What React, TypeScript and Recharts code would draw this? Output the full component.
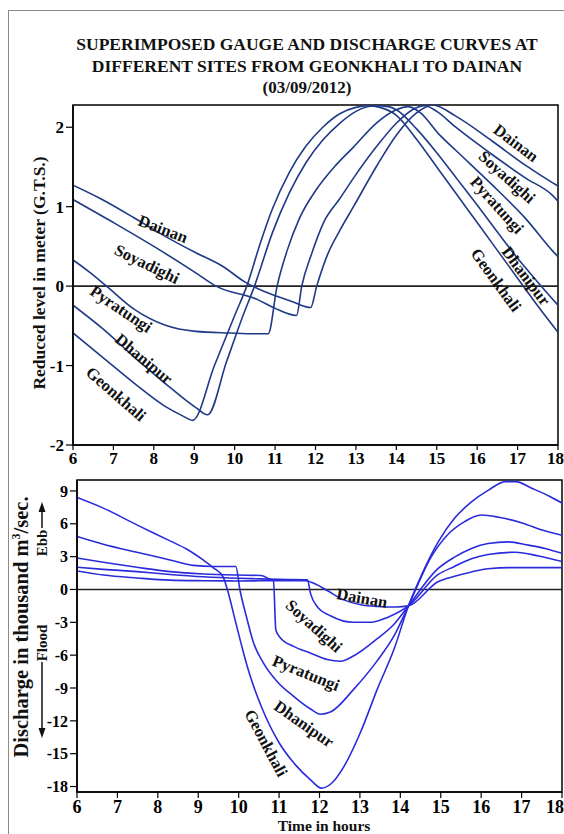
import React from 'react';
import { LineChart, Line, XAxis, YAxis, ReferenceLine, ReferenceArea } from 'recharts';

const FONT = '"Liberation Serif", "Times New Roman", serif';
const TOP_COLOR = '#1f3a86';
const BOTTOM_COLOR = '#2b2bdc';

// x axis (time in hours)
const hourTicks = [6, 7, 8, 9, 10, 11, 12, 13, 14, 15, 16, 17, 18];
// y ticks
const levelTicks = [-2, -1, 0, 1, 2];
const dischargeTicks = [9, 6, 3, 0, -3, -6, -9, -12, -15, -18];

// ---- Gauge (reduced level, m) : [hour, level]
const gaugeGeonkhali = [
  [6, -0.59], [6.72, -0.89], [7.51, -1.22], [8.27, -1.51], [8.7, -1.63], [8.96, -1.69],
  [9.5, -1.0], [10.0, -0.37], [10.3, 0], [10.64, 0.55], [10.94, 0.98], [11.35, 1.43],
  [11.76, 1.76], [12.18, 2.0], [12.6, 2.17], [13.0, 2.25], [13.3, 2.27], [13.6, 2.25],
  [14.0, 2.15], [14.5, 1.85], [15, 1.5], [15.5, 1.15], [16, 0.8], [16.5, 0.45],
  [17, 0.1], [17.5, -0.25], [18, -0.58],
];
const gaugeDhanipur = [
  [6, -0.24], [6.72, -0.53], [7.51, -0.89], [8.27, -1.22], [9.04, -1.53], [9.33, -1.62],
  [9.8, -0.95], [10.2, -0.38], [10.49, 0], [10.94, 0.68], [11.35, 1.17], [11.76, 1.55],
  [12.18, 1.84], [12.6, 2.05], [13.0, 2.2], [13.5, 2.27], [13.8, 2.26], [14.0, 2.22],
  [14.5, 1.98], [15, 1.68], [15.5, 1.35], [16, 1.02], [16.5, 0.68], [17, 0.35],
  [17.5, 0.05], [18, -0.24],
];
const gaugePyratungi = [
  [6, 0.33], [6.4, 0.18], [6.83, 0], [7.51, -0.29], [8.27, -0.49], [9.04, -0.57],
  [9.88, -0.59], [10.5, -0.6], [10.83, -0.6], [11.05, 0], [11.3, 0.45], [11.6, 0.85],
  [12.0, 1.2], [12.5, 1.52], [12.94, 1.75], [13.5, 2.05], [14.0, 2.22], [14.3, 2.26],
  [14.6, 2.18], [15.04, 1.92], [15.47, 1.71], [16.36, 1.28], [17.2, 0.85], [17.87, 0.44],
  [18, 0.37],
];
const gaugeSoyadighi = [
  [6, 1.09], [7, 0.8], [8, 0.5], [9, 0.18], [9.54, 0], [10.57, -0.17], [11.0, -0.28],
  [11.53, -0.37], [11.66, 0], [11.9, 0.4], [12.2, 0.8], [12.6, 1.1], [12.94, 1.36],
  [13.5, 1.75], [14.0, 2.05], [14.4, 2.22], [14.7, 2.27], [15.0, 2.2], [15.47, 2.0],
  [16.36, 1.66], [17.2, 1.36], [17.87, 1.14], [18, 1.07],
];
const gaugeDainan = [
  [6, 1.27], [6.72, 1.09], [7.51, 0.86], [8.27, 0.63], [9.04, 0.42], [9.7, 0.25],
  [10.26, 0.05], [10.94, -0.11], [11.4, -0.19], [11.88, -0.27], [12.03, 0], [12.3, 0.4],
  [12.6, 0.7], [12.94, 1.0], [13.5, 1.5], [14.0, 1.9], [14.5, 2.18], [14.9, 2.28],
  [15.47, 2.14], [16.36, 1.83], [17.2, 1.52], [17.87, 1.3], [18, 1.26],
];

// ---- Discharge (thousand m3/s) : [hour, discharge]
const flowGeonkhali = [
  [6, 8.4], [6.65, 7.43], [7.48, 5.9], [8.3, 4.44], [8.71, 3.7], [9.12, 2.7], [9.37, 2.0],
  [9.62, 1.1], [9.72, 0], [9.92, -2.9], [10.1, -5.5], [10.25, -7.5], [10.55, -10.6],
  [11.0, -14.0], [11.4, -16.0], [11.78, -17.4], [12.05, -18.15], [12.3, -17.7],
  [12.6, -16.2], [13.02, -13.0], [13.43, -9.1], [13.85, -5.4], [14.2, -1.5], [14.51, 1.2],
  [14.93, 4.3], [15.34, 6.5], [15.76, 8.0], [16.17, 9.05], [16.6, 9.85], [16.85, 9.85],
  [17.28, 9.2], [17.7, 8.5], [18, 7.9],
];
const flowDhanipur = [
  [6, 4.85], [6.65, 4.14], [7.48, 3.4], [8.3, 2.7], [8.88, 2.2], [9.37, 2.1], [9.93, 2.1],
  [10.03, 0], [10.2, -2.6], [10.37, -4.9], [10.61, -6.7], [10.95, -8.4], [11.36, -9.76],
  [11.77, -10.9], [12.02, -11.4], [12.27, -11.2], [12.85, -9.1], [13.43, -6.5],
  [13.85, -4.2], [14.2, -1.5], [14.76, 2.95], [15.17, 5.0], [15.59, 6.2], [16.0, 6.8],
  [16.43, 6.6], [17.03, 6.05], [17.53, 5.4], [18, 4.95],
];
const flowPyratungi = [
  [6, 2.87], [6.65, 2.48], [7.48, 2.03], [8.3, 1.63], [9.12, 1.42], [9.95, 1.32],
  [10.55, 1.28], [10.8, 0.9], [10.86, 0.85], [10.92, -3.7], [11.03, -4.4], [11.36, -5.2],
  [11.77, -5.8], [12.19, -6.4], [12.52, -6.56], [12.85, -6.06], [13.43, -4.5],
  [13.85, -3.15], [14.2, -1.5], [14.93, 1.9], [15.34, 2.95], [15.76, 3.75], [16.17, 4.2],
  [16.67, 4.35], [17.17, 4.05], [17.58, 3.75], [18, 3.3],
];
const flowSoyadighi = [
  [6, 2.03], [6.65, 1.84], [7.48, 1.63], [8.3, 1.37], [9.12, 1.16], [10.0, 1.02],
  [10.53, 0.97], [11.0, 0.92], [11.7, 0.88], [11.78, -0.4], [11.94, -1.55], [12.27, -2.4],
  [12.85, -3.0], [13.27, -3.0], [13.68, -2.55], [14.2, -1.5], [14.93, 1.35], [15.34, 2.1],
  [15.76, 2.8], [16.17, 3.2], [16.85, 3.4], [17.43, 3.05], [18, 2.55],
];
const flowDainan = [
  [6, 1.69], [6.65, 1.32], [7.48, 1.05], [8.3, 0.85], [9.12, 0.8], [10.0, 0.78],
  [11.0, 0.8], [11.65, 0.8], [11.9, 0.5], [12.19, -0.1], [12.6, -0.95], [13.02, -1.4],
  [13.43, -1.55], [13.9, -1.6], [14.2, -1.5], [14.93, 0.7], [15.34, 1.2], [15.76, 1.6],
  [16.17, 1.9], [16.85, 2.0], [17.43, 2.0], [18, 2.0],
];

const siteNames = ['Geonkhali', 'Dhanipur', 'Pyratungi', 'Soyadighi', 'Dainan'];
const gaugeSeries = [gaugeGeonkhali, gaugeDhanipur, gaugePyratungi, gaugeSoyadighi, gaugeDainan];
const flowSeries = [flowGeonkhali, flowDhanipur, flowPyratungi, flowSoyadighi, flowDainan];

const toPoints = (arr: number[][]) => arr.map(([h, v]) => ({ h, v }));

// curve label placement (page px, rotation deg)
const gaugeLabelsLeft: [string, number, number, number][] = [
  ['Dainan', 163, 229, 21],
  ['Soyadighi', 147, 264, 26],
  ['Pyratungi', 121, 309, 34],
  ['Dhanipur', 144, 359, 40],
  ['Geonkhali', 116, 394, 41],
];
const gaugeLabelsRight: [string, number, number, number][] = [
  ['Dainan', 516, 143, 37],
  ['Soyadighi', 507, 177, 42],
  ['Pyratungi', 497, 205, 48],
  ['Dhanipur', 526, 276, 53],
  ['Geonkhali', 496, 280, 54],
];
const flowLabels: [string, number, number, number][] = [
  ['Dainan', 362, 598, 10],
  ['Soyadighi', 314, 626, 42],
  ['Pyratungi', 306, 673, 22],
  ['Dhanipur', 304, 724, 35],
  ['Geonkhali', 266, 743, 62],
];

const tickStyle = (size: number) => ({
  fontSize: size,
  fontWeight: 'bold' as const,
  fill: '#000',
  fontFamily: FONT,
});

const CurveLabel = ({ t, x, y, a }: { t: string; x: number; y: number; a: number }) => (
  <text
    x={x}
    y={y}
    textAnchor="middle"
    dominantBaseline="central"
    transform={`rotate(${a} ${x} ${y})`}
    fontFamily={FONT}
    fontWeight="bold"
    fontSize={16.5}
    fill="#111"
  >
    {t}
  </text>
);

export default function App() {
  return (
    <div
      style={{
        position: 'absolute',
        left: 0,
        top: 0,
        width: 564,
        height: 834,
        background: '#fff',
        overflow: 'hidden',
        fontFamily: FONT,
      }}
    >
      <div
        style={{
          position: 'absolute',
          left: 8,
          top: 10,
          width: 620,
          height: 900,
          border: '1.5px solid #8a8a8a',
          boxSizing: 'border-box',
        }}
      />

      {/* Gauge chart */}
      <div style={{ position: 'absolute', left: 0, top: 95 }}>
        <LineChart width={564} height={390} margin={{ top: 10, right: 6, left: 0, bottom: 0 }}>
          <XAxis
            type="number"
            dataKey="h"
            domain={[6, 18]}
            ticks={hourTicks}
            height={40}
            tick={tickStyle(17)}
            tickSize={5}
            tickLine={{ stroke: '#000', strokeWidth: 1.2 }}
            axisLine={{ stroke: '#000', strokeWidth: 1.5 }}
            allowDataOverflow
          />
          <YAxis
            type="number"
            domain={[-2, 2.28]}
            ticks={levelTicks}
            width={73}
            tick={tickStyle(17)}
            tickSize={7}
            tickLine={{ stroke: '#000', strokeWidth: 1.2 }}
            axisLine={{ stroke: '#000', strokeWidth: 1.5 }}
            allowDataOverflow
          />
          <ReferenceArea x1={6} x2={18} y1={-2} y2={2.28} fill="none" stroke="#000" strokeWidth={1.5} />
          <ReferenceLine y={0} stroke="#222" strokeWidth={1.6} />
          {gaugeSeries.map((s, i) => (
            <Line
              key={siteNames[i]}
              name={siteNames[i]}
              data={toPoints(s)}
              dataKey="v"
              type="monotone"
              stroke={TOP_COLOR}
              strokeWidth={1.6}
              dot={false}
              isAnimationActive={false}
            />
          ))}
        </LineChart>
      </div>

      {/* Discharge chart */}
      <div style={{ position: 'absolute', left: 0, top: 470 }}>
        <LineChart width={564} height={364} margin={{ top: 10, right: 2, left: 0, bottom: 0 }}>
          <XAxis
            type="number"
            dataKey="h"
            domain={[6, 18]}
            ticks={hourTicks}
            height={42}
            tick={tickStyle(18)}
            tickSize={6}
            tickLine={{ stroke: '#000', strokeWidth: 1.2 }}
            axisLine={{ stroke: '#000', strokeWidth: 1.5 }}
            allowDataOverflow
          />
          <YAxis
            type="number"
            domain={[-18.5, 10]}
            ticks={dischargeTicks}
            width={77}
            tick={tickStyle(16)}
            tickSize={7}
            tickLine={{ stroke: '#000', strokeWidth: 1.2 }}
            axisLine={{ stroke: '#000', strokeWidth: 1.5 }}
            allowDataOverflow
          />
          <ReferenceArea x1={6} x2={18} y1={-18.5} y2={10} fill="none" stroke="#000" strokeWidth={1.5} />
          <ReferenceLine y={0} stroke="#222" strokeWidth={1.6} />
          {flowSeries.map((s, i) => (
            <Line
              key={siteNames[i]}
              name={siteNames[i]}
              data={toPoints(s)}
              dataKey="v"
              type="monotone"
              stroke={BOTTOM_COLOR}
              strokeWidth={1.6}
              dot={false}
              isAnimationActive={false}
            />
          ))}
        </LineChart>
      </div>

      {/* Text overlay */}
      <svg
        width={564}
        height={834}
        style={{ position: 'absolute', left: 0, top: 0, pointerEvents: 'none' }}
      >
        <g fontFamily={FONT} fontWeight="bold" fill="#111" textAnchor="middle">
          <text x={307} y={50} fontSize={17.5}>SUPERIMPOSED GAUGE AND DISCHARGE CURVES AT</text>
          <text x={307} y={72} fontSize={17.5}>DIFFERENT SITES FROM GEONKHALI TO DAINAN</text>
          <text x={307} y={93} fontSize={17}>(03/09/2012)</text>

          <text x={45} y={273} fontSize={17.5} transform="rotate(-90 45 273)">
            Reduced level in meter (G.T.S.)
          </text>
          <text x={28} y={627} fontSize={20.5} transform="rotate(-90 28 627)">
            Discharge in thousand m<tspan fontSize={12} dy={-8}>3</tspan>
            <tspan dy={8}>/sec.</tspan>
          </text>
          <text x={47} y={543} fontSize={15} transform="rotate(-90 47 543)">Ebb</text>
          <text x={47} y={643} fontSize={15} transform="rotate(-90 47 643)">Flood</text>
          <text x={324} y={831} fontSize={15.5}>Time in hours</text>
        </g>

        {/* Ebb / Flood arrows */}
        <line x1={42} y1={528} x2={42} y2={510} stroke="#111" strokeWidth={1.5} />
        <polygon points="42,502 38.5,512 45.5,512" fill="#111" />
        <line x1={42} y1={662} x2={42} y2={728} stroke="#111" strokeWidth={1.5} />
        <polygon points="42,738 38.5,728 45.5,728" fill="#111" />

        {gaugeLabelsLeft.map(([t, x, y, a]) => (
          <CurveLabel key={'gl' + t} t={t} x={x} y={y} a={a} />
        ))}
        {gaugeLabelsRight.map(([t, x, y, a]) => (
          <CurveLabel key={'gr' + t} t={t} x={x} y={y} a={a} />
        ))}
        {flowLabels.map(([t, x, y, a]) => (
          <CurveLabel key={'fl' + t} t={t} x={x} y={y} a={a} />
        ))}
      </svg>
    </div>
  );
}
